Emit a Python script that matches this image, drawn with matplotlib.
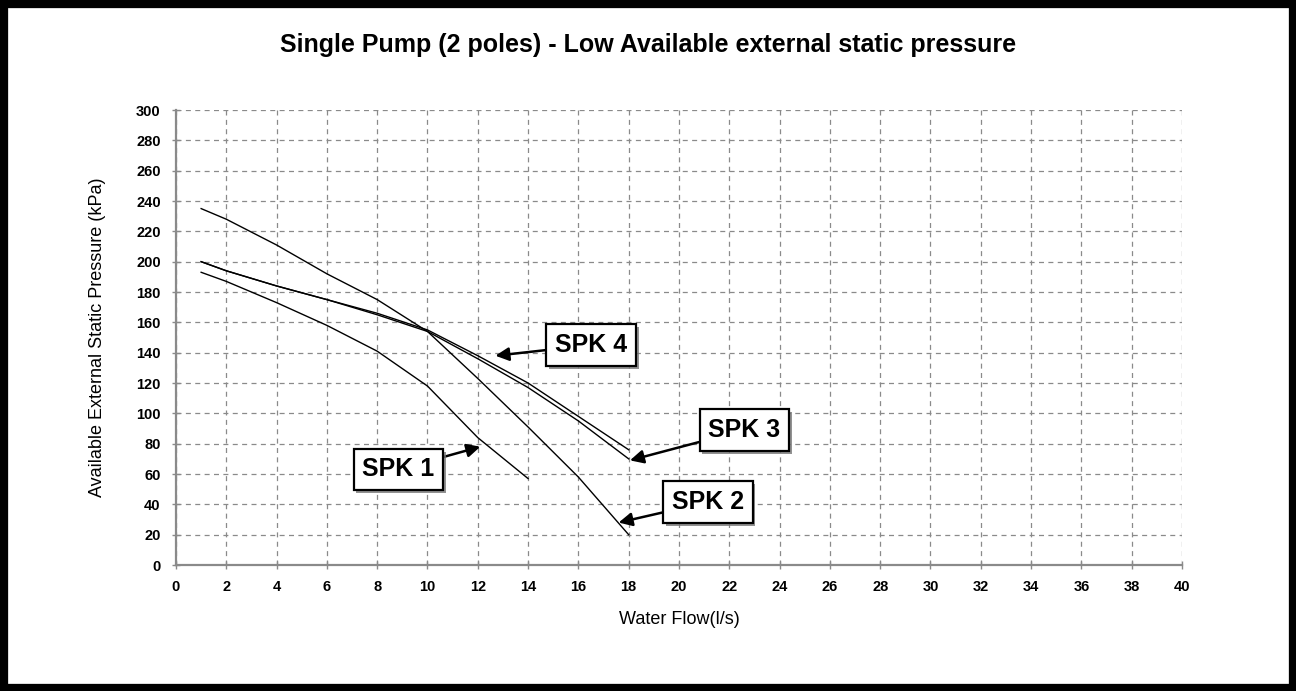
import numpy as np
import matplotlib
matplotlib.use("Agg")
import matplotlib.pyplot as plt
import matplotlib.patheffects as pe
from matplotlib.patches import Rectangle

# data (flow l/s, pressure kPa)
spk1_x = [1, 2, 4, 6, 8, 10, 12, 14]
spk1_y = [193, 187, 173, 158, 141, 118, 84, 57]

spk2_x = [1, 2, 4, 6, 8, 10, 12, 14, 16, 18]
spk2_y = [235, 228, 211, 192, 175, 154, 123, 91, 58, 20]

spk3_x = [1, 2, 4, 6, 8, 10, 12, 14, 16, 18]
spk3_y = [200, 194, 184, 175, 165, 154, 136, 117, 95, 70]

spk4_x = [1, 2, 4, 6, 8, 10, 12, 14, 16, 18]
spk4_y = [200, 194, 184, 175, 166, 155, 138, 120, 98, 76]

x_ticks = list(range(0, 41, 2))
y_ticks = list(range(0, 301, 20))

# label text, box centre, arrow tip
labels = ["SPK 1", "SPK 2", "SPK 3", "SPK 4"]
label_pos = [(8.85, 63), (21.15, 41.5), (22.6, 89), (16.5, 145)]
arrow_tip = [(12.1, 78), (17.6, 28), (18.05, 69), (12.7, 138)]

plt.rcParams['font.family'] = ['Liberation Sans', 'DejaVu Sans']

fig = plt.figure(figsize=(12.96, 6.91), dpi=100)
ax = fig.add_axes([0.1358, 0.1823, 0.7762, 0.6585])

for xs, ys in [(spk1_x, spk1_y), (spk2_x, spk2_y), (spk3_x, spk3_y), (spk4_x, spk4_y)]:
    ax.plot(xs, ys, color='black', lw=1.0, zorder=3)

ax.set_xlim(0, 40)
ax.set_ylim(0, 300)
ax.set_xticks(x_ticks)
ax.set_yticks(y_ticks)
ax.grid(True, color='#8a8a8a', linestyle=(0, (4, 3.5)), lw=0.9)

for s in ['top', 'right']:
    ax.spines[s].set_visible(False)
for s in ['left', 'bottom']:
    ax.spines[s].set_color('#8a8a8a')
    ax.spines[s].set_linewidth(1.6)

ax.tick_params(direction='inout', length=6, color='#8a8a8a', width=1,
               labelsize=10.5, pad=8)
for lab in ax.get_xticklabels() + ax.get_yticklabels():
    lab.set_fontweight('bold')

ax.set_xlabel("Water Flow(l/s)", fontsize=13, labelpad=12)
ax.set_ylabel("Available External Static Pressure (kPa)", fontsize=13, labelpad=22)

fig.suptitle("Single Pump (2 poles) - Low Available external static pressure",
             x=0.5, y=0.935, va='center', fontsize=18, fontweight='bold')

for txt, pos, tip in zip(labels, label_pos, arrow_tip):
    ann = ax.annotate(txt, xy=tip, xytext=pos, ha='center', va='center',
                      fontsize=18, fontweight='bold', zorder=5,
                      bbox=dict(boxstyle='square,pad=0.35', fc='white', ec='black', lw=1.6),
                      arrowprops=dict(arrowstyle='-|>', color='black', lw=1.8,
                                      mutation_scale=20, shrinkA=0, shrinkB=0))
    ann.get_bbox_patch().set_path_effects([
        pe.SimplePatchShadow(offset=(2, -2), shadow_rgbFace='#777777', alpha=0.8),
        pe.Normal()])

# thick black frame around the whole picture
fig.patches.append(Rectangle((0, 0), 1, 1, transform=fig.transFigure,
                             fill=False, ec='black', lw=11))

fig.savefig("out.png", dpi=100)
